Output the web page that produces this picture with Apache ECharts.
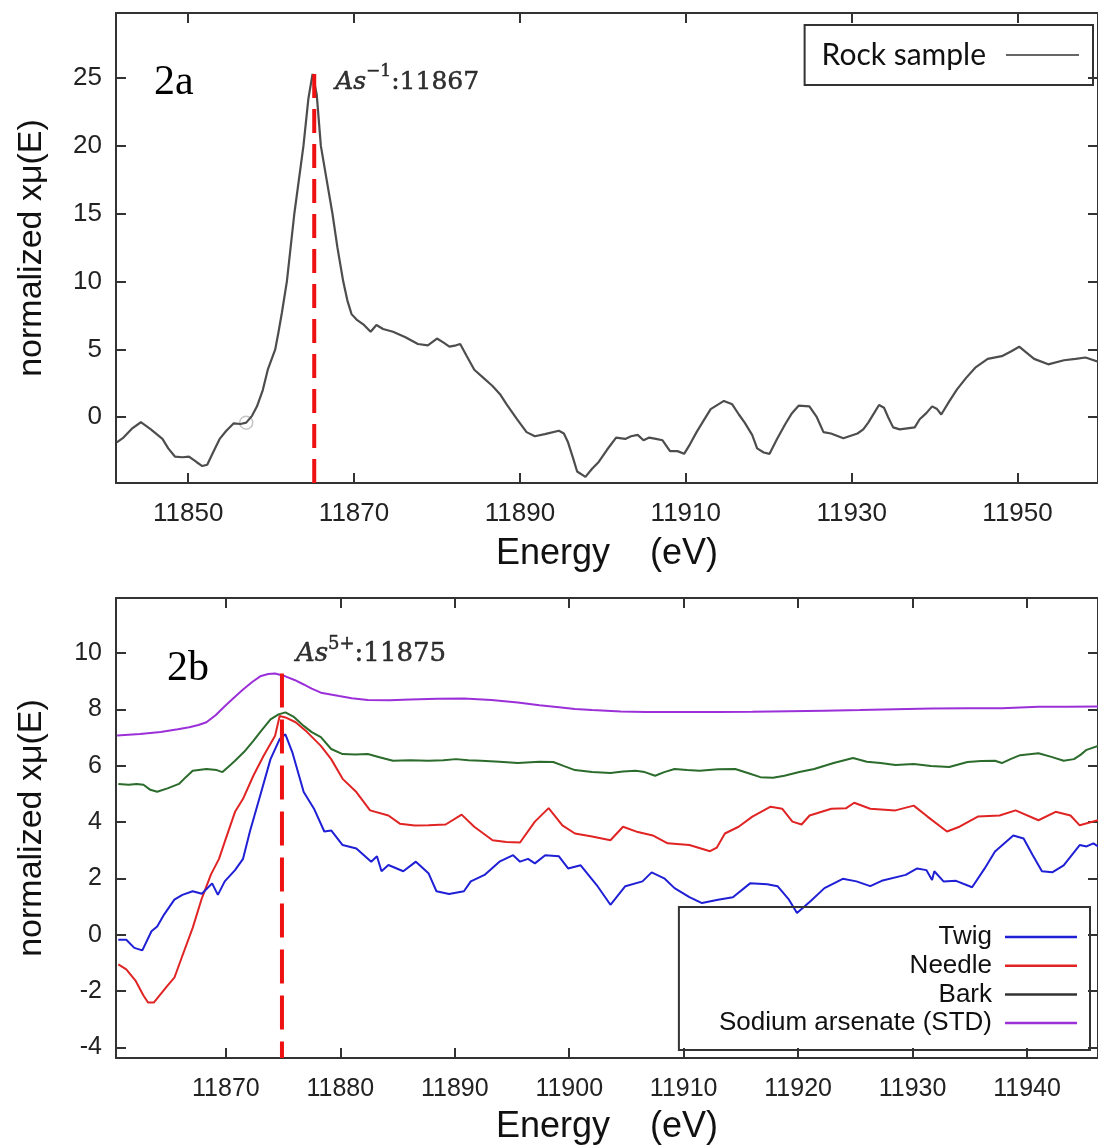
<!DOCTYPE html>
<html>
<head>
<meta charset="utf-8">
<title>As K-edge XANES</title>
<script src="https://cdn.jsdelivr.net/npm/echarts@6/dist/echarts.min.js"></script>
<style>
  html, body { margin: 0; padding: 0; background: #fff; }
  #chart { width: 1098px; height: 1146px; }
</style>
</head>
<body>
<div id="chart"></div>
<script>
// ---- panel 2a : rock sample ----
const rockEnergy = [11841.4, 11842.2, 11843.3, 11844.3, 11845.5, 11846.9, 11847.6, 11848.4, 11849.3, 11850.1,
  11851.0, 11851.7, 11852.3, 11853.0, 11853.8, 11854.6, 11855.5, 11856.3, 11857.0, 11857.7,
  11858.3, 11859.0, 11859.6, 11860.5, 11860.9, 11861.3, 11861.9, 11862.8, 11863.9, 11864.5,
  11865.0, 11865.5, 11866.0, 11866.7, 11867.4, 11868.0, 11868.7, 11869.2, 11869.7, 11870.3,
  11871.2, 11872.0, 11872.7, 11873.5, 11874.7, 11876.2, 11877.7, 11878.9, 11880.0, 11880.8,
  11881.5, 11882.3, 11882.8, 11883.6, 11884.5, 11885.6, 11886.7, 11887.6, 11888.4, 11889.6,
  11890.8, 11891.8, 11893.0, 11894.7, 11895.3, 11895.8, 11896.4, 11896.9, 11897.9, 11898.7,
  11899.5, 11900.5, 11901.6, 11902.7, 11903.4, 11904.2, 11904.9, 11905.6, 11906.4, 11907.2,
  11908.1, 11909.0, 11909.8, 11910.5, 11911.3, 11912.2, 11913.0, 11914.6, 11915.6, 11916.4,
  11917.1, 11918.0, 11918.6, 11919.4, 11920.1, 11921.0, 11922.0, 11922.8, 11923.6, 11924.9,
  11925.8, 11926.6, 11927.5, 11929.0, 11930.7, 11931.4, 11932.0, 11932.7, 11933.3, 11933.9,
  11934.4, 11935.0, 11935.8, 11937.6, 11938.2, 11939.0, 11939.7, 11940.3, 11940.8, 11941.8,
  11942.7, 11943.8, 11944.9, 11946.4, 11948.1, 11949.2, 11950.2, 11951.0, 11952.0, 11953.7,
  11955.6, 11957.0, 11958.2, 11959.7];
const rockMu = [-1.85, -1.5, -0.8, -0.37, -0.9, -1.6, -2.3, -2.9, -2.95, -2.9,
  -3.3, -3.6, -3.5, -2.6, -1.6, -1.0, -0.45, -0.5, -0.4, 0.1,
  0.8, 2.0, 3.5, 5.0, 6.3, 7.7, 10.0, 15.0, 20.0, 23.5,
  25.3, 23.8, 20.0, 17.5, 15.0, 12.5, 10.0, 8.6, 7.6, 7.2,
  6.8, 6.3, 6.8, 6.5, 6.3, 5.9, 5.4, 5.3, 5.8, 5.5,
  5.2, 5.3, 5.4, 4.5, 3.5, 2.9, 2.3, 1.7, 0.95, -0.1,
  -1.1, -1.4, -1.25, -1.0, -1.2, -1.85, -3.0, -4.0, -4.4, -3.8,
  -3.3, -2.4, -1.5, -1.6, -1.4, -1.3, -1.7, -1.5, -1.6, -1.7,
  -2.5, -2.5, -2.7, -2.0, -1.1, -0.2, 0.6, 1.2, 0.95, 0.2,
  -0.4, -1.3, -2.3, -2.6, -2.7, -1.6, -0.5, 0.3, 0.85, 0.8,
  0.0, -1.1, -1.2, -1.55, -1.2, -0.9, -0.4, 0.3, 0.9, 0.7,
  0.0, -0.75, -0.9, -0.75, -0.15, 0.3, 0.8, 0.6, 0.2, 1.2,
  2.05, 2.9, 3.65, 4.3, 4.5, 4.85, 5.2, 4.8, 4.3, 3.9,
  4.2, 4.3, 4.4, 4.1];
const rockMarker = [[11857.0, -0.4]];
const rockEdge = [11865.2, 25.3];
const rockXTicks = [11850, 11870, 11890, 11910, 11930, 11950];
const rockYTicks = [0, 5, 10, 15, 20, 25];

// ---- panel 2b : tree parts + standard ----
const twigEnergy = [11860.6, 11861.3, 11862.0, 11862.7, 11863.5, 11864.0, 11864.6, 11865.5, 11866.2, 11867.1,
  11867.9, 11868.8, 11869.3, 11869.9, 11870.8, 11871.5, 11872.1, 11873.0, 11873.9, 11874.7,
  11875.2, 11875.8, 11876.8, 11877.7, 11878.6, 11879.2, 11880.2, 11881.4, 11882.7, 11883.2,
  11883.6, 11884.2, 11885.5, 11886.6, 11887.7, 11888.4, 11889.5, 11890.8, 11891.4, 11892.6,
  11893.9, 11895.1, 11895.7, 11896.4, 11897.0, 11897.9, 11899.1, 11899.9, 11901.0, 11902.4,
  11903.6, 11904.9, 11906.4, 11907.2, 11908.3, 11909.2, 11910.5, 11911.6, 11913.0, 11914.3,
  11915.8, 11917.3, 11918.2, 11919.2, 11919.9, 11921.1, 11922.3, 11923.9, 11925.1, 11926.3,
  11927.3, 11929.4, 11930.4, 11931.2, 11931.7, 11931.9, 11932.7, 11933.8, 11935.2, 11936.3,
  11937.2, 11938.8, 11939.7, 11940.5, 11941.3, 11942.2, 11943.2, 11944.6, 11945.2, 11945.8,
  11946.2];
const twigMu = [-0.17, -0.17, -0.46, -0.55, 0.13, 0.3, 0.72, 1.25, 1.42, 1.55,
  1.46, 1.83, 1.42, 1.9, 2.3, 2.7, 3.67, 4.95, 6.24, 6.95,
  7.12, 6.49, 5.07, 4.48, 3.67, 3.71, 3.19, 3.07, 2.6, 2.79,
  2.26, 2.48, 2.26, 2.6, 2.19, 1.55, 1.45, 1.55, 1.9, 2.13,
  2.6, 2.83, 2.6, 2.7, 2.54, 2.83, 2.79, 2.36, 2.47, 1.77,
  1.07, 1.73, 1.9, 2.22, 2.01, 1.66, 1.34, 1.13, 1.25, 1.34,
  1.83, 1.8, 1.73, 1.25, 0.78, 1.2, 1.66, 1.99, 1.9, 1.73,
  1.92, 2.13, 2.36, 2.3, 1.95, 2.26, 1.9, 1.92, 1.69, 2.36,
  2.96, 3.53, 3.42, 2.83, 2.26, 2.22, 2.47, 3.19, 3.14, 3.25,
  3.14];
const needleEnergy = [11860.6, 11861.3, 11862.1, 11862.8, 11863.2, 11863.7, 11864.3, 11864.9, 11865.5, 11866.2,
  11867.1, 11867.9, 11868.7, 11869.4, 11869.9, 11870.8, 11871.5, 11872.4, 11873.3, 11874.3,
  11874.7, 11875.2, 11876.1, 11877.1, 11878.3, 11879.2, 11880.2, 11881.4, 11882.6, 11884.2,
  11885.2, 11886.5, 11887.7, 11889.2, 11890.6, 11891.7, 11893.3, 11894.5, 11895.7, 11897.0,
  11898.2, 11899.4, 11900.5, 11902.0, 11903.6, 11904.7, 11906.0, 11907.3, 11908.6, 11910.5,
  11912.3, 11912.9, 11913.6, 11914.8, 11916.0, 11917.6, 11918.6, 11919.5, 11920.3, 11921.0,
  11922.9, 11924.2, 11924.9, 11926.3, 11928.5, 11930.1, 11931.3, 11933.0, 11934.1, 11935.7,
  11937.6, 11939.0, 11941.0, 11942.5, 11943.8, 11944.6, 11946.2];
const needleMu = [-1.05, -1.22, -1.62, -2.15, -2.4, -2.4, -2.1, -1.8, -1.52, -0.74,
  0.25, 1.3, 2.15, 2.7, 3.3, 4.37, 4.83, 5.65, 6.36, 7.07,
  7.77, 7.72, 7.55, 7.2, 6.71, 6.24, 5.54, 5.07, 4.42, 4.24,
  3.95, 3.88, 3.89, 3.92, 4.27, 3.84, 3.36, 3.3, 3.28, 4.02,
  4.5, 3.89, 3.6, 3.49, 3.36, 3.84, 3.65, 3.53, 3.25, 3.19,
  2.97, 3.1, 3.6, 3.84, 4.2, 4.55, 4.48, 4.02, 3.92, 4.24,
  4.48, 4.5, 4.69, 4.48, 4.42, 4.59, 4.2, 3.67, 3.84, 4.2,
  4.24, 4.42, 4.07, 4.37, 4.24, 3.89, 4.07];
const barkEnergy = [11860.6, 11861.5, 11862.2, 11862.8, 11863.4, 11864.0, 11864.9, 11865.9, 11866.5, 11867.1,
  11868.3, 11869.2, 11869.7, 11870.3, 11870.8, 11871.6, 11872.4, 11873.1, 11873.9, 11874.6,
  11875.2, 11875.9, 11876.8, 11877.5, 11878.3, 11879.2, 11880.2, 11881.3, 11882.4, 11883.5,
  11884.6, 11886.1, 11887.7, 11889.0, 11890.1, 11891.2, 11892.3, 11893.9, 11895.5, 11897.4,
  11898.6, 11899.5, 11900.5, 11902.0, 11903.6, 11904.7, 11905.8, 11906.6, 11907.5, 11908.3,
  11909.2, 11910.3, 11911.4, 11913.0, 11914.5, 11915.6, 11916.7, 11917.8, 11918.8, 11920.1,
  11921.4, 11923.1, 11924.8, 11926.0, 11927.2, 11928.5, 11930.1, 11931.6, 11933.2, 11934.0,
  11934.8, 11936.0, 11937.2, 11937.8, 11938.6, 11939.4, 11941.0, 11942.2, 11943.2, 11944.1,
  11944.7, 11945.2, 11946.2];
const barkMu = [5.36, 5.33, 5.36, 5.33, 5.15, 5.08, 5.2, 5.36, 5.6, 5.83,
  5.89, 5.85, 5.78, 6.0, 6.18, 6.5, 6.89, 7.25, 7.65, 7.83,
  7.9, 7.75, 7.42, 7.2, 7.02, 6.6, 6.42, 6.4, 6.42, 6.3,
  6.18, 6.2, 6.18, 6.2, 6.24, 6.2, 6.18, 6.15, 6.1, 6.15,
  6.14, 6.0, 5.85, 5.78, 5.75, 5.8, 5.83, 5.78, 5.65, 5.78,
  5.89, 5.85, 5.83, 5.88, 5.89, 5.75, 5.6, 5.58, 5.65, 5.78,
  5.89, 6.1, 6.28, 6.15, 6.1, 6.03, 6.07, 6.0, 5.96, 6.05,
  6.14, 6.17, 6.18, 6.1, 6.25, 6.38, 6.45, 6.31, 6.18, 6.24,
  6.4, 6.57, 6.71];
const stdEnergy = [11860.5, 11862.5, 11864.3, 11865.8, 11866.8, 11867.6, 11868.3, 11869.1, 11869.9, 11870.7,
  11871.5, 11872.3, 11873.0, 11873.7, 11874.3, 11875.2, 11876.0, 11876.8, 11877.5, 11878.3,
  11879.9, 11881.0, 11882.4, 11884.3, 11886.1, 11888.5, 11890.8, 11893.2, 11895.5, 11897.4,
  11899.1, 11900.5, 11902.0, 11904.5, 11906.7, 11910.0, 11912.9, 11916.0, 11919.2, 11922.3,
  11925.4, 11928.5, 11931.7, 11934.8, 11937.8, 11941.0, 11943.5, 11946.2];
const stdMu = [7.08, 7.13, 7.2, 7.3, 7.37, 7.45, 7.55, 7.8, 8.12, 8.42,
  8.71, 8.98, 9.18, 9.26, 9.28, 9.18, 9.05, 8.89, 8.74, 8.6,
  8.48, 8.4, 8.34, 8.33, 8.36, 8.38, 8.39, 8.34, 8.25, 8.15,
  8.08, 8.02, 7.98, 7.93, 7.91, 7.91, 7.91, 7.92, 7.94, 7.96,
  7.98, 8.01, 8.04, 8.05, 8.05, 8.1, 8.1, 8.11];
const treeEdge = [11874.9, 9.28];
const treeXTicks = [11870, 11880, 11890, 11900, 11910, 11920, 11930, 11940];
const treeYTicks = [-4, -2, 0, 2, 4, 6, 8, 10];

const rockRange = { xMin: 11841.3, xMax: 11959.7, yMin: -4.85, yMax: 29.8 };
const treeRange = { xMin: 11860.4, xMax: 11946.2, yMin: -4.37, yMax: 11.96 };

const AXIS_COLOR = '#333';
const SANS = 'Liberation Sans, Arial, sans-serif';
const SERIF = 'DejaVu Serif, serif';

function zip(xs, ys) {
  return xs.map((x, i) => [x, ys[i]]);
}

function axisLine() {
  return { show: true, onZero: false, lineStyle: { color: AXIS_COLOR, width: 2 } };
}

function axisTick(ticks) {
  return { show: true, inside: true, length: 10, customValues: ticks, lineStyle: { color: AXIS_COLOR, width: 2 } };
}

// bottom/left axes carry labels, top/right only mirror the inward ticks
function xAxes(gridIndex, range, ticks, fontSize, margin, nameGap) {
  return [{
    type: 'value', gridIndex, position: 'bottom', min: range.xMin, max: range.xMax,
    axisLine: axisLine(), axisTick: axisTick(ticks), splitLine: { show: false },
    axisLabel: { customValues: ticks, formatter: v => String(v), fontSize, fontFamily: SANS, color: '#222', margin },
    name: 'Energy    (eV)', nameLocation: 'middle', nameGap,
    nameTextStyle: { fontSize: 36, fontFamily: SANS, color: '#111' }
  }, {
    type: 'value', gridIndex, position: 'top', min: range.xMin, max: range.xMax,
    axisLine: axisLine(), axisTick: axisTick(ticks), splitLine: { show: false }, axisLabel: { show: false }
  }];
}

function yAxes(gridIndex, range, ticks, fontSize) {
  return [{
    type: 'value', gridIndex, position: 'left', min: range.yMin, max: range.yMax,
    axisLine: axisLine(), axisTick: axisTick(ticks), splitLine: { show: false },
    axisLabel: { customValues: ticks, formatter: v => String(v), fontSize, fontFamily: SANS, color: '#222', margin: 14 },
    name: 'normalized xμ(E)', nameLocation: 'middle', nameGap: 67,
    nameTextStyle: { fontSize: 34, fontFamily: SANS, color: '#111' }
  }, {
    type: 'value', gridIndex, position: 'right', min: range.yMin, max: range.yMax,
    axisLine: axisLine(), axisTick: axisTick(ticks), splitLine: { show: false }, axisLabel: { show: false }
  }];
}

function spectrum(name, data, color, xi, yi, width) {
  return {
    name, type: 'line', data, xAxisIndex: xi, yAxisIndex: yi,
    symbol: 'none', smooth: false, silent: true,
    lineStyle: { color, width: width || 2 }, itemStyle: { color }
  };
}

function edgeLine(point, yMin, xi, yi, dash) {
  return {
    type: 'line', xAxisIndex: xi, yAxisIndex: yi, symbol: 'none', silent: true,
    data: [point, [point[0], yMin]],
    lineStyle: { color: '#ee1111', width: 4, type: dash }, z: 5
  };
}

function edgeLabel(point, text, fontSize, offset, xi, yi) {
  const ink = { color: '#000', textBorderColor: '#000', textBorderWidth: 0.5 };
  return {
    type: 'scatter', xAxisIndex: xi, yAxisIndex: yi, symbolSize: 0, silent: true,
    data: [point],
    label: {
      show: true, position: 'right', distance: 0, offset, color: '#000',
      formatter: text,
      rich: {
        it: { ...ink, fontFamily: SERIF, fontStyle: 'italic', fontSize, lineHeight: 32, verticalAlign: 'bottom' },
        sup: { ...ink, fontFamily: SERIF, fontSize: Math.round(fontSize * 0.68), lineHeight: 18, verticalAlign: 'top' },
        n: { ...ink, fontFamily: SERIF, fontSize, lineHeight: 32, verticalAlign: 'bottom' }
      }
    }
  };
}

// thin filled bar used as a plain line icon in the legends
const LINE_ICON = 'rect';

const chart = echarts.init(document.getElementById('chart'), null, { renderer: 'canvas' });

const option = {
  animation: false,
  backgroundColor: '#fff',
  grid: [
    { left: 116, top: 13, right: -3, height: 470 },
    { left: 116, top: 598, right: -3, height: 463 }
  ],
  xAxis: [...xAxes(0, rockRange, rockXTicks, 26, 18, 53), ...xAxes(1, treeRange, treeXTicks, 25, 19, 51)],
  yAxis: [...yAxes(0, rockRange, rockYTicks, 26), ...yAxes(1, treeRange, treeYTicks, 25)],
  legend: [{
    data: [{ name: 'Rock sample', itemStyle: { color: '#666' } }],
    orient: 'horizontal', align: 'right', right: 5, top: 25,
    icon: LINE_ICON, itemWidth: 73, itemHeight: 2,
    padding: [15, 14, 15, 17],
    borderColor: '#333', borderWidth: 2,
    textStyle: { fontFamily: 'Lato, sans-serif', fontSize: 30, color: '#111', padding: [0, 15, 0, 0] },
    selectedMode: false
  }, {
    data: [
      { name: 'Twig' },
      { name: 'Needle' },
      { name: 'Bark', itemStyle: { color: '#333' } },
      { name: 'Sodium arsenate (STD)' }
    ],
    orient: 'vertical', align: 'right', right: 8, top: 907,
    icon: LINE_ICON, itemWidth: 72, itemHeight: 2.5, itemGap: 2.7,
    padding: [17, 13, 14, 40],
    borderColor: '#333', borderWidth: 2,
    textStyle: { fontFamily: SANS, fontSize: 26, lineHeight: 22, color: '#111', padding: [0, 8, 0, 0] },
    selectedMode: false
  }],
  graphic: [
    { type: 'text', left: 154, top: 62, style: { text: '2a', font: '42px "Liberation Serif", serif', fill: '#000' } },
    { type: 'text', left: 167, top: 648, style: { text: '2b', font: '42px "Liberation Serif", serif', fill: '#000' } }
  ],
  series: [
    spectrum('Rock sample', zip(rockEnergy, rockMu), '#4d4d4d', 0, 0, 2.2),
    {
      type: 'scatter', xAxisIndex: 0, yAxisIndex: 0, data: rockMarker, silent: true,
      symbol: 'circle', symbolSize: 13,
      itemStyle: { color: 'rgba(0,0,0,0)', borderColor: '#b5b5b5', borderWidth: 1.5 }
    },
    edgeLine(rockEdge, rockRange.yMin, 0, 0, [24, 11]),
    edgeLabel(rockEdge, '{it|As}{sup|−1}{n|:11867}', 25, [21, 5], 0, 0),

    spectrum('Sodium arsenate (STD)', zip(stdEnergy, stdMu), '#9b30d9', 2, 2),
    spectrum('Bark', zip(barkEnergy, barkMu), '#2b6b2b', 2, 2),
    spectrum('Needle', zip(needleEnergy, needleMu), '#e02424', 2, 2),
    spectrum('Twig', zip(twigEnergy, twigMu), '#1f1fd6', 2, 2),
    edgeLine(treeEdge, treeRange.yMin, 2, 2, [34, 12]),
    edgeLabel(treeEdge, '{it|As}{sup|5+}{n|:11875}', 26, [14, -22], 2, 2)
  ]
};

chart.setOption(option);
</script>
</body>
</html>
